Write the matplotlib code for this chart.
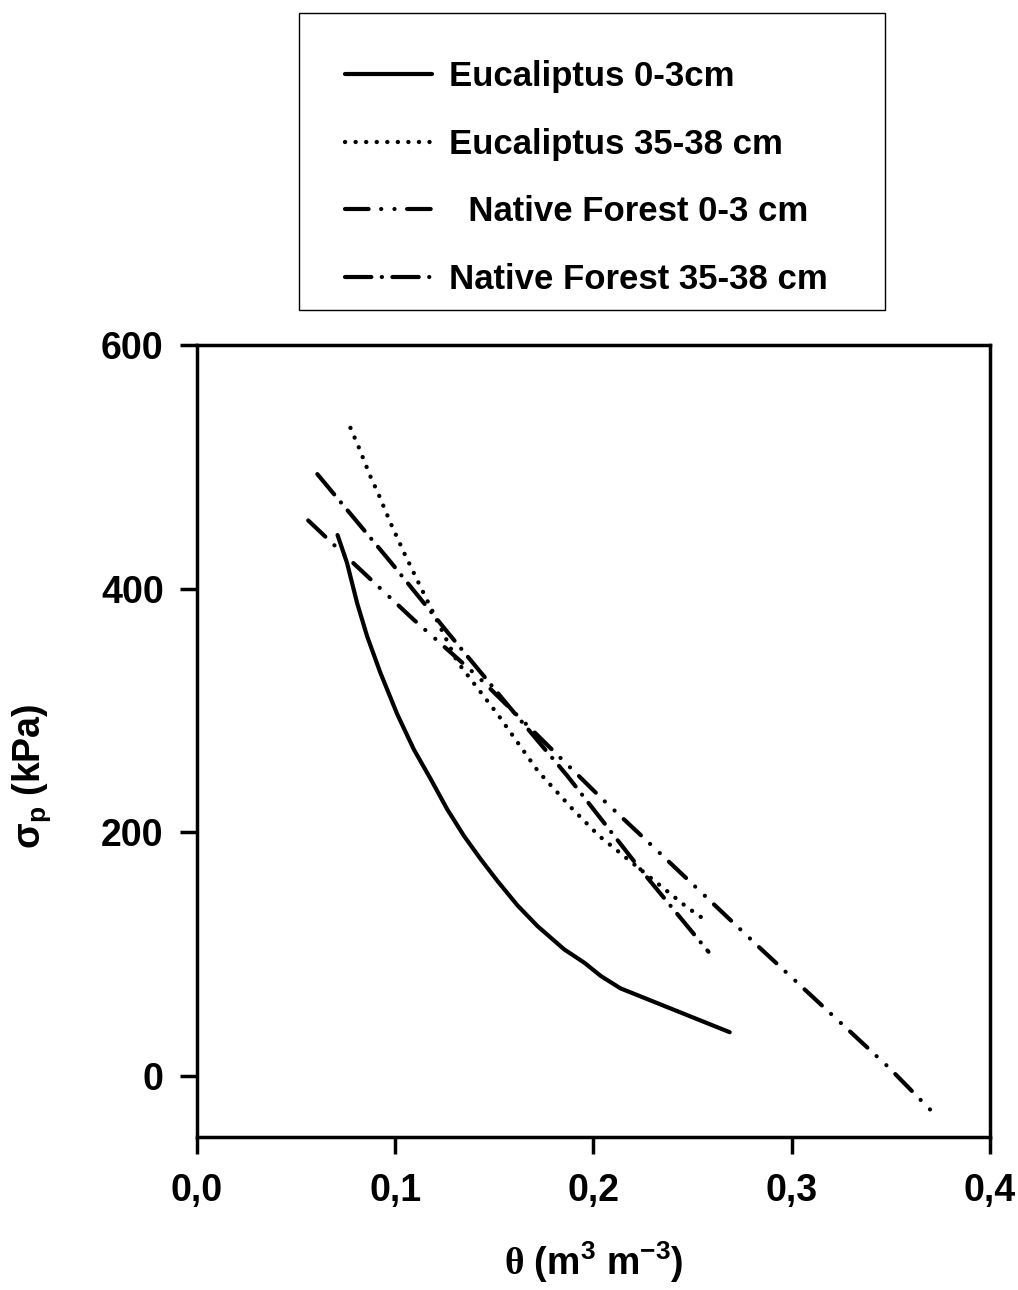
import matplotlib
matplotlib.use("Agg")
import matplotlib.pyplot as plt
from matplotlib.patches import Rectangle

plt.rcParams['font.family'] = ['Liberation Sans', 'DejaVu Sans']
plt.rcParams['font.weight'] = 'bold'
plt.rcParams['mathtext.fontset'] = 'custom'
plt.rcParams['mathtext.rm'] = 'Liberation Serif'
plt.rcParams['mathtext.bf'] = 'Liberation Sans:bold'
plt.rcParams['lines.scale_dashes'] = False

# data (theta in m3 m-3, sigma_p in kPa)
euc_0_3_theta = [0.0709, 0.0757, 0.0808, 0.0858, 0.0925, 0.1010, 0.1094, 0.1178, 0.1262, 0.1347,
                 0.1431, 0.1516, 0.1617, 0.1718, 0.1852, 0.1954, 0.2038, 0.2136, 0.2687]
euc_0_3_sigma = [444, 421, 388, 361, 331, 297, 268, 244, 219, 197,
                 178, 160, 140, 123, 104, 93, 82, 72, 36]

euc_35_38_theta = [0.0774, 0.0816, 0.0875, 0.0917, 0.0976, 0.1043, 0.1111, 0.1313, 0.1516,
                   0.1721, 0.1895, 0.2029, 0.2468, 0.2564]
euc_35_38_sigma = [532, 516, 492, 477, 454, 430, 407, 340, 297,
                   250, 219, 197, 139, 128]

nat_0_3_theta = [0.0561, 0.0723, 0.109, 0.1416, 0.204, 0.2276, 0.2847, 0.349, 0.3707]
nat_0_3_sigma = [456, 431, 375, 328, 228, 192, 104, 7, -29]

nat_35_38_theta = [0.0607, 0.0976, 0.126, 0.157, 0.187, 0.223, 0.258]
nat_35_38_sigma = [494, 422, 365, 304, 246, 171, 102]

labels = ["Eucaliptus 0-3cm", "Eucaliptus 35-38 cm", "  Native Forest 0-3 cm", "Native Forest 35-38 cm"]

fig = plt.figure(figsize=(10.18, 12.90), dpi=100)
ax = fig.add_axes([0.1935, 0.1186, 0.779, 0.614])

lw = 3.0
ax.plot(euc_0_3_theta, euc_0_3_sigma, color='black', lw=lw,
        solid_capstyle='round', solid_joinstyle='round', label=labels[0])
ax.plot(euc_35_38_theta, euc_35_38_sigma, color='black', lw=lw + 0.1,
        linestyle=(0, (0.1, 7.5)), dash_capstyle='round', label=labels[1])
ax.plot(nat_0_3_theta, nat_0_3_sigma, color='black', lw=lw,
        linestyle=(0, (17, 9, 0.1, 9.5, 0.1, 9)), dash_capstyle='round', label=labels[2])
ax.plot(nat_35_38_theta, nat_35_38_sigma, color='black', lw=lw,
        linestyle=(0, (19, 7.5, 0.1, 7.5)), dash_capstyle='round', label=labels[3])

ax.set_xlim(0, 0.4)
ax.set_ylim(-50, 600)
ax.set_xticks([0.0, 0.1, 0.2, 0.3, 0.4])
ax.set_xticklabels(["0,0", "0,1", "0,2", "0,3", "0,4"])
ax.set_yticks([0, 200, 400, 600])

for s in ax.spines.values():
    s.set_linewidth(2.5)
ax.tick_params(axis='both', direction='out', length=12, width=2.5, labelsize=27)
ax.tick_params(axis='x', pad=14)
ax.tick_params(axis='y', pad=12)

ax.set_xlabel(r'$\mathrm{\theta}$ (m$^\mathbf{3}$ m$^\mathbf{-3}$)', fontsize=27, fontweight='bold')
ax.set_ylabel(r'σ$_\mathbf{p}$ (kPa)', fontsize=27, fontweight='bold')
ax.xaxis.set_label_coords(0.5, -0.158)
ax.xaxis.label.set_va('center')
ax.yaxis.set_label_coords(-0.208, 0.456)
ax.yaxis.label.set_va('center')

# legend without its own frame, box drawn separately
leg = ax.legend(loc='upper left', bbox_to_anchor=(345 / 1018, 1 - 60 / 1290),
                bbox_transform=fig.transFigure, fontsize=25, frameon=False,
                handlelength=2.5, handletextpad=0.5, labelspacing=1.0,
                borderpad=0, borderaxespad=0)
fig.patches.append(Rectangle((299 / 1018, 1 - 310 / 1290), 586 / 1018, 297 / 1290,
                             transform=fig.transFigure, fill=False,
                             edgecolor='black', lw=1.0))

fig.savefig("out.png", dpi=100)
